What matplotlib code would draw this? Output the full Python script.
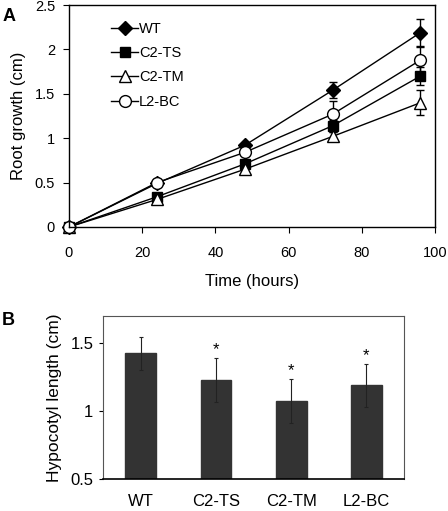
import numpy as np
import matplotlib.pyplot as plt
from matplotlib.lines import Line2D

plt.rcParams['font.family'] = ['Liberation Sans', 'DejaVu Sans']

# Panel A: root growth over time
hours = [0, 24, 48, 72, 96]
WT = [0, 0.49, 0.92, 1.54, 2.19]
WT_err = [0, 0.03, 0.03, 0.09, 0.15]
C2TS = [0, 0.34, 0.71, 1.14, 1.70]
C2TS_err = [0, 0.03, 0.03, 0.07, 0.10]
C2TM = [0, 0.31, 0.65, 1.02, 1.40]
C2TM_err = [0, 0.03, 0.03, 0.05, 0.14]
L2BC = [0, 0.50, 0.84, 1.27, 1.88]
L2BC_err = [0, 0.04, 0.03, 0.15, 0.15]

# Panel B: hypocotyl length
lines = ['WT', 'C2-TS', 'C2-TM', 'L2-BC']
hypo = [1.425, 1.23, 1.075, 1.19]
hypo_err = [0.12, 0.16, 0.16, 0.16]
signif = [False, True, True, True]

fig = plt.figure(figsize=(4.48, 5.11), dpi=100)

ax1 = fig.add_axes([0.154, 0.5558, 0.817, 0.4342])
series = [
    ('WT', WT, WT_err, 'D', 'black', 7),
    ('C2-TS', C2TS, C2TS_err, 's', 'black', 7.5),
    ('C2-TM', C2TM, C2TM_err, '^', 'white', 8),
    ('L2-BC', L2BC, L2BC_err, 'o', 'white', 8.5),
]
handles = []
for name, vals, err, mk, fc, ms in series:
    eb = ax1.errorbar(hours, vals, yerr=err, color='black', lw=1, marker=mk,
                      mfc=fc, mec='black', mew=1, ms=ms, capsize=3, capthick=1,
                      elinewidth=1)
    for art in eb.lines[0:1] + tuple(eb.lines[1]) + tuple(eb.lines[2]):
        art.set_clip_on(False)
    handles.append(Line2D([], [], color='black', lw=1, marker=mk, mfc=fc,
                          mec='black', mew=1, ms=ms, label=name))
ax1.set_xlim(0, 100)
ax1.set_ylim(0, 2.5)
ax1.set_xticks([0, 20, 40, 60, 80, 100])
ax1.set_yticks([0, 0.5, 1, 1.5, 2, 2.5])
ax1.set_yticklabels(['0', '0.5', '1', '1.5', '2', '2.5'])
ax1.tick_params(direction='out', length=4, labelsize=10.5, pad=6)
ax1.tick_params(axis='x', pad=10)
ax1.set_xlabel('Time (hours)', fontsize=12, labelpad=10)
ax1.set_ylabel('Root growth (cm)', fontsize=12, labelpad=6)
ax1.legend(handles=handles, loc='upper left', bbox_to_anchor=(0.1, 0.95),
           frameon=False, fontsize=10.5, handlelength=1.8, handletextpad=0.1,
           labelspacing=0.7, borderaxespad=0)
for sp in ax1.spines.values():
    sp.set_linewidth(1)

ax2 = fig.add_axes([0.23, 0.0626, 0.672, 0.319])
x = np.arange(len(lines))
ax2.bar(x, hypo, width=0.41, color='#333333', edgecolor='#333333')
ax2.errorbar(x, hypo, yerr=hypo_err, fmt='none', ecolor='#222222',
             elinewidth=0.8, capsize=1.5, capthick=0.8)
for xi, v, e, s in zip(x, hypo, hypo_err, signif):
    if s:
        ax2.text(xi, v + e + 0.06, '*', ha='center', va='center', fontsize=12)
ax2.set_xlim(-0.5, 3.5)
ax2.set_ylim(0.5, 1.7)
ax2.set_yticks([0.5, 1, 1.5])
ax2.set_yticklabels(['0.5', '1', '1.5'])
ax2.set_xticks(x)
ax2.set_xticklabels(lines)
ax2.tick_params(axis='x', length=0, labelsize=12, pad=11)
ax2.tick_params(axis='y', direction='out', length=3, labelsize=12, pad=4)
ax2.set_ylabel('Hypocotyl length (cm)', fontsize=12.5, labelpad=6)
for name, sp in ax2.spines.items():
    sp.set_linewidth(0.8)
    sp.set_color('#555555')
ax2.spines['bottom'].set_color('black')
ax2.spines['bottom'].set_linewidth(1.2)

fig.text(0.005, 0.985, 'A', fontsize=13, fontweight='bold', va='top')
fig.text(0.005, 0.39, 'B', fontsize=13, fontweight='bold', va='top')

fig.savefig('out.png', dpi=100)
